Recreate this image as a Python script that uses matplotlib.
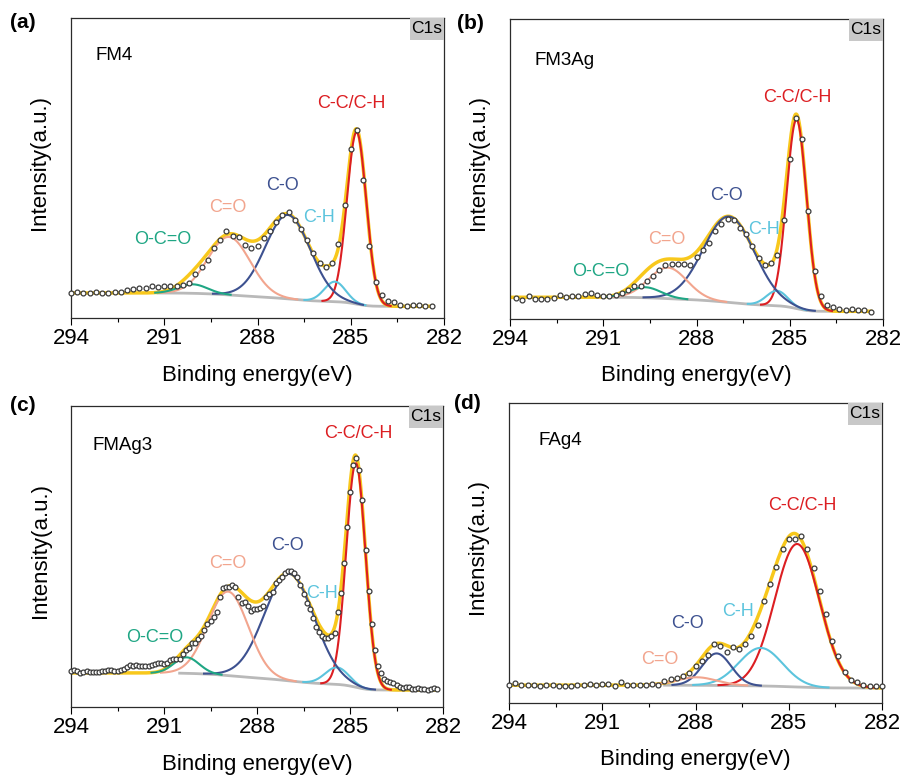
import numpy as np
import matplotlib
matplotlib.use("Agg")
import matplotlib.pyplot as plt
from matplotlib.patches import Rectangle

plt.rcParams['font.family'] = ['Liberation Sans', 'DejaVu Sans']

# fitted components, same order in every panel
names = ['C-C/C-H', 'C-H', 'C-O', 'C=O', 'O-C=O']
colors = ['#dc1e22', '#5cc4dd', '#3d5190', '#f2a58e', '#1fa684']

# ---- FM4 ----
fm4_start, fm4_step = 294.0, 0.2
fm4_counts = [25.0, 26.0, 25.0, 24.7, 25.7, 25.0, 25.0, 26.3, 26.3, 27.7,
              28.7, 29.7, 29.7, 32.0, 31.0, 31.7, 32.0, 32.3, 33.3, 35.0,
              44.3, 51.0, 57.7, 70.0, 78.3, 86.7, 81.7, 80.7, 73.3, 70.0,
              72.3, 79.7, 86.7, 96.0, 103.3, 105.7, 98.3, 89.0, 77.7, 65.0,
              55.0, 50.7, 55.0, 74.0, 113.3, 169.0, 188.3, 137.7, 71.7, 35.7,
              22.7, 16.7, 15.7, 13.3, 12.3, 13.3, 13.0, 12.3, 11.7]
fm4_center = [284.81, 285.51, 287.02, 288.92, 290.08]
fm4_height = [172, 20, 84, 58, 9]
fm4_fwhm = [0.73, 0.80, 1.70, 1.60, 1.10]
fm4_bg = [25.0, 11.7]
fm4_bg_from = 291.2

# ---- FM3Ag ----
fm3ag_start, fm3ag_step = 293.8, 0.2
fm3ag_counts = [21.0, 19.3, 22.7, 20.3, 20.3, 20.3, 21.0, 24.0, 22.3, 23.3,
                23.3, 24.7, 26.0, 24.0, 23.3, 23.3, 24.3, 26.0, 28.7, 32.7,
                32.7, 37.7, 43.3, 49.3, 53.7, 55.0, 55.0, 55.0, 53.7, 61.7,
                68.7, 76.0, 87.7, 95.3, 100.3, 99.3, 91.0, 85.0, 72.7, 61.0,
                53.7, 56.0, 64.3, 99.3, 160.3, 201.0, 180.0, 107.7, 47.7, 23.3,
                14.0, 12.0, 10.0, 9.3, 10.3, 8.7, 9.3, 7.0]
fm3ag_center = [284.78, 285.41, 286.95, 288.92, 289.65]
fm3ag_height = [189, 15, 86, 31, 10.5]
fm3ag_fwhm = [0.75, 0.80, 1.93, 1.45, 1.20]
fm3ag_bg = [21.7, 7.7]
fm3ag_bg_from = 290.8

# ---- FMAg3 ----
fmag3_start, fmag3_step = 294.0, 0.1
fmag3_counts = [36.0, 37.0, 36.0, 34.3, 35.3, 36.0, 35.3, 35.3, 35.3, 35.3,
                36.0, 36.0, 36.7, 37.0, 36.0, 36.3, 37.0, 37.7, 39.7, 41.7,
                41.0, 41.7, 41.0, 41.0, 41.0, 41.0, 41.7, 43.0, 44.0, 44.0,
                43.0, 44.3, 47.0, 48.3, 47.7, 48.3, 53.0, 57.0, 59.3, 63.7,
                64.3, 67.7, 71.0, 77.0, 83.0, 86.0, 90.3, 95.3, 109.7, 119.0,
                120.3, 120.3, 122.3, 119.7, 110.3, 104.3, 105.3, 101.0, 96.3, 97.7,
                98.3, 99.3, 101.0, 110.3, 113.0, 115.3, 123.7, 127.0, 129.7, 134.3,
                136.0, 135.7, 134.3, 130.3, 122.0, 113.0, 103.7, 97.7, 88.7, 80.3,
                75.3, 71.0, 69.3, 69.3, 71.0, 74.3, 95.3, 113.7, 143.7, 179.7,
                215.0, 242.0, 249.3, 237.0, 207.0, 157.0, 116.3, 83.0, 57.0, 41.0,
                33.7, 28.3, 26.3, 25.0, 23.7, 22.0, 20.3, 18.7, 19.7, 20.3,
                18.3, 17.7, 18.7, 18.3, 17.7, 17.0, 17.7, 18.7, 17.7]
fmag3_center = [284.81, 285.42, 286.95, 288.93, 290.27]
fmag3_height = [224, 17, 107, 84, 16]
fmag3_fwhm = [0.73, 0.90, 1.90, 1.53, 0.95]
fmag3_bg = [34.0, 17.0]
fmag3_bg_from = 290.5

# ---- FAg4 ----
fag4_start, fag4_step = 294.0, 0.2
fag4_counts = [18.3, 20.0, 18.0, 17.6, 17.6, 16.6, 18.0, 18.0, 16.6, 16.6, 16.6,
               18.0, 18.3, 19.0, 17.6, 19.0, 19.3, 16.6, 20.6, 18.3, 18.0,
               18.0, 18.0, 19.0, 18.3, 22.3, 24.0, 25.0, 27.3, 30.0, 37.3,
               41.6, 47.6, 59.3, 56.6, 50.6, 55.6, 54.3, 59.3, 66.6, 78.3,
               102.0, 119.3, 135.6, 154.0, 164.0, 164.0, 167.3, 154.0, 135.0, 111.6,
               89.3, 61.6, 47.3, 30.6, 22.6, 20.6, 18.0, 16.6, 16.6, 17.3]
fag4_center = [284.73, 285.90, 287.32, 287.96]
fag4_height = [143, 38, 32, 8]
fag4_fwhm = [1.70, 1.65, 1.10, 1.50]
fag4_bg = [17.8, 15.0]
fag4_bg_from = 289.0

# label anchors (binding energy, intensity)
fm4_labels = [(284.97, 214), (286.01, 100), (287.19, 133), (288.96, 111), (291.04, 79)]
fm3ag_labels = [(284.77, 221), (285.84, 89), (287.02, 124), (288.96, 79), (291.07, 48)]
fmag3_labels = [(284.74, 273), (285.90, 113), (287.01, 162), (288.94, 144), (291.30, 70)]
fag4_labels = [(284.56, 198), (286.62, 91), (288.25, 80), (289.14, 43)]


def gauss(x, c, h, w):
    s = w / 2.3548
    return h * np.exp(-0.5 * ((x - c) / s) ** 2)


def panel(ax, start, step, counts, center, height, fwhm, bg, bg_from,
          sample, sample_xy, labels, ytop):
    counts = np.array(counts)
    e = start - step * np.arange(len(counts))
    x = np.linspace(294.0, e[-1], 900)
    peaks = [gauss(x, c, h, w) for c, h, w in zip(center, height, fwhm)]
    total = np.sum(peaks, axis=0)
    # Shirley-type step: peak area counted from the low binding energy side
    area = np.cumsum(total[::-1])[::-1]
    base = bg[1] + (bg[0] - bg[1]) * area / area[0]

    m = x <= bg_from
    ax.plot(x[m], base[m], color='#b9b9b9', lw=2.0, zorder=1)
    ax.plot(x, base + total, color='#f8c81c', lw=2.5, zorder=2)
    for p, col in zip(peaks, colors):
        k = p > 0.3
        ax.plot(x[k], base[k] + p[k], color=col, lw=1.5, zorder=3)
    ax.plot(e, counts, 'o', ms=3.5, mfc='white', mec='#3a3a3a', mew=0.9,
            zorder=4, clip_on=False)

    for txt, col, (lx, ly) in zip(names, colors, labels):
        ax.text(lx, ly, txt, color=col, fontsize=13, ha='center', va='center')

    ax.text(sample_xy[0], sample_xy[1], sample, transform=ax.transAxes,
            fontsize=13.5, va='baseline', ha='left')
    ax.add_patch(Rectangle((1 - 0.091, 1 - 0.073), 0.091, 0.073,
                           transform=ax.transAxes, facecolor='#c8c8c8',
                           edgecolor='none', zorder=5))
    ax.text(1 - 0.0455, 1 - 0.0365, 'C1s', transform=ax.transAxes,
            fontsize=12.5, ha='center', va='center', zorder=6)

    ax.set_xlim(294, 282)
    ax.set_ylim(0, ytop)
    ax.set_xticks([294, 291, 288, 285, 282])
    ax.set_xticks([292.5, 289.5, 286.5, 283.5], minor=True)
    ax.set_yticks([])
    ax.tick_params(axis='x', which='major', direction='out', length=5,
                   width=0.8, labelsize=16, pad=2)
    ax.tick_params(axis='x', which='minor', direction='out', length=3,
                   width=0.8)
    for s in ax.spines.values():
        s.set_color('#2b2b2b')
        s.set_linewidth(0.9)
    ax.set_xlabel('Binding energy(eV)', fontsize=16)
    ax.set_ylabel('Intensity(a.u.)', fontsize=16)
    ax.xaxis.set_label_coords(0.5, -0.155)
    ax.yaxis.set_label_coords(-0.055, 0.52)


fig = plt.figure(figsize=(9.04, 7.76), dpi=100)
W, H = 904, 776
ax_a = fig.add_axes([71 / W, 1 - 318 / H, 373 / W, 300 / H])
ax_b = fig.add_axes([510 / W, 1 - 319 / H, 373 / W, 300 / H])
ax_c = fig.add_axes([71 / W, 1 - 707 / H, 372 / W, 301 / H])
ax_d = fig.add_axes([509 / W, 1 - 703 / H, 373 / W, 300 / H])

panel(ax_a, fm4_start, fm4_step, fm4_counts, fm4_center, fm4_height, fm4_fwhm,
      fm4_bg, fm4_bg_from, 'FM4', (0.065, 0.86), fm4_labels, 300)
panel(ax_b, fm3ag_start, fm3ag_step, fm3ag_counts, fm3ag_center, fm3ag_height,
      fm3ag_fwhm, fm3ag_bg, fm3ag_bg_from, 'FM3Ag', (0.067, 0.847),
      fm3ag_labels, 300)
panel(ax_c, fmag3_start, fmag3_step, fmag3_counts, fmag3_center, fmag3_height,
      fmag3_fwhm, fmag3_bg, fmag3_bg_from, 'FMAg3', (0.059, 0.854),
      fmag3_labels, 301)
panel(ax_d, fag4_start, fag4_step, fag4_counts, fag4_center, fag4_height,
      fag4_fwhm, fag4_bg, fag4_bg_from, 'FAg4', (0.08, 0.86), fag4_labels, 300)

for tag, fx, fy in [('(a)', 10, 13), ('(b)', 457, 14), ('(c)', 10, 396), ('(d)', 454, 394)]:
    fig.text(fx / W, 1 - fy / H, tag, fontsize=15, fontweight='bold',
             ha='left', va='top')

fig.savefig('out.png', dpi=100)
